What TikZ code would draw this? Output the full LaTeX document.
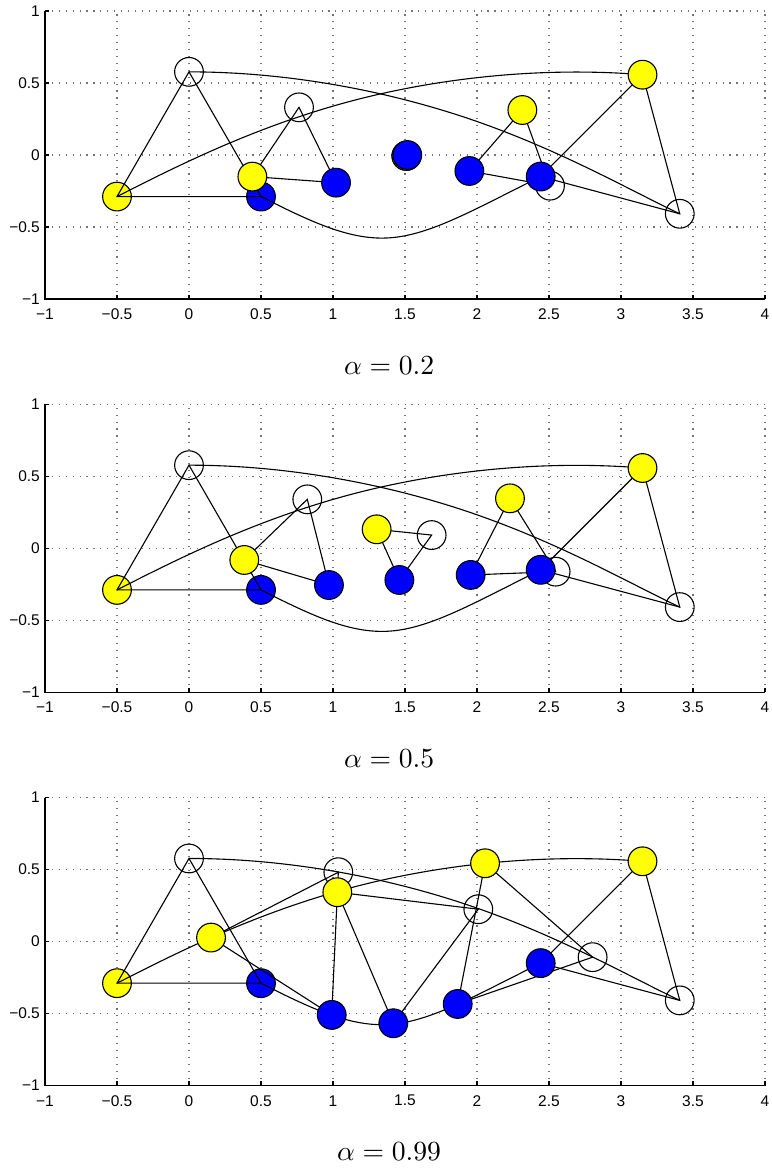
\documentclass[tikz,border=0pt]{standalone}
\usepackage{fontspec}
\newfontfamily\ticksfont{Liberation Sans}
\definecolor{dotyellow}{rgb}{1,1,0}
\definecolor{dotblue}{rgb}{0,0,1}
\tikzset{
    gridline/.style={black!55, line width=0.4pt, dash pattern=on 0.4pt off 2.1pt},
    axisline/.style={line width=0.5pt},
    edge/.style={line width=0.4pt},
    dot/.style={circle, draw, line width=0.4pt, minimum size=0.365cm, inner sep=0pt},
    wdot/.style={dot},
    ydot/.style={dot, fill=dotyellow},
    bdot/.style={dot, fill=dotblue},
    ticklab/.style={font=\ticksfont\fontsize{5.6}{6.7}\selectfont, inner sep=0pt}
}

% one panel: #1 prefix, #2 shift, #3 alpha, #4 inner triangles
\newcommand{\trianglepanel}[4]{%
\begin{scope}[shift={(0,#2)}]
    % grid
    \foreach \gx in {-1,-0.5,...,4}
        \draw[gridline] (\gx,-1) -- (\gx,1);
    \foreach \gy in {-1,-0.5,...,1}
        \draw[gridline] (-1,\gy) -- (4,\gy);

    % axes and ticks
    \draw[axisline] (-1,1) -- (-1,-1) -- (4,-1);
    \foreach \gx/\lab [count=\i] in {
        -1/−1, -0.5/−0.5, 0/0, 0.5/0.5, 1/1, 1.5/1.5,
        2/2, 2.5/2.5, 3/3, 3.5/3.5, 4/4
    }{
        \draw[axisline] (\gx,-1) -- (\gx,-0.97);
        \node[ticklab] (#1-xl\i) at (\gx,-1.105) {\lab};
    }
    \foreach \gy/\lab [count=\i] in {
        -1/−1, -0.5/−0.5, 0/0, 0.5/0.5, 1/1
    }{
        \draw[axisline] (-1,\gy) -- (-0.97,\gy);
        \node[ticklab, anchor=east] (#1-yl\i) at (-1.032,\gy) {\lab};
    }

    % end triangles and the midpoints of the paths
    \foreach \n/\x/\y in {
        W0/0/0.5774, Y0/-0.5/-0.2887, B0/0.5/-0.2887,
        W4/3.4082/-0.4082, Y4/3.1494/0.5577, B4/2.4423/-0.1494,
        Wm/2.0334/0.2209, Ym/1.0420/0.3515, Bm/1.4246/-0.5724,
        #4
    }
        \coordinate (#1-\n) at (\x,\y);

    % first triangle below the lines
    \node[wdot] (#1-w0) at (#1-W0) {};
    \node[ydot] (#1-y0) at (#1-Y0) {};
    \node[bdot] (#1-b0) at (#1-B0) {};

    % triangle edges
    \foreach \t in {0,...,4}
        \draw[edge] (#1-W\t) -- (#1-Y\t) -- (#1-B\t) -- cycle;

    % paths of the three corners
    \draw[edge] (#1-W0) .. controls +(0.7267,0) and +(-0.5868,0.2095) .. (#1-Wm)
        .. controls +(0.5868,-0.2095) and +(-0.3397,0.1603) .. (#1-W4);
    \draw[edge] (#1-Y0) .. controls +(0.3866,0.1964) and +(-0.6380,-0.1799) .. (#1-Ym)
        .. controls +(0.6380,0.1799) and +(-0.7190,0.0587) .. (#1-Y4);
    \draw[edge] (#1-B0) .. controls +(0.3866,-0.1964) and +(-0.2752,-0.0296) .. (#1-Bm)
        .. controls +(0.2752,0.0296) and +(-0.4413,-0.2190) .. (#1-B4);

    % other triangles on top
    \foreach \t in {1,...,4}{
        \node[wdot] (#1-w\t) at (#1-W\t) {};
        \node[ydot] (#1-y\t) at (#1-Y\t) {};
        \node[bdot] (#1-b\t) at (#1-B\t) {};
    }

    \node (#1-title) at (1.39,-1.46) {$\alpha = #3$};
\end{scope}}

\begin{document}
\begin{tikzpicture}[x=1.83cm, y=1.83cm]
    \useasboundingbox (-1.3125,1.0764) rectangle (4.0486,-7.0486);

    % alpha = 0.2
    \trianglepanel{a}{0}{0.2}{
        W1/0.764/0.331, Y1/0.440/-0.150, B1/1.021/-0.192,
        W2/1.509/-0.007, Y2/1.510/-0.006, B2/1.516/0,
        W3/2.507/-0.213, Y3/2.315/0.3125, B3/1.947/-0.111}

    % alpha = 0.5
    \trianglepanel{b}{-2.7313}{0.5}{
        W1/0.8215/0.340, Y1/0.384/-0.081, B1/0.972/-0.255,
        W2/1.685/0.092, Y2/1.303/0.132, B2/1.461/-0.220,
        W3/2.546/-0.162, Y3/2.229/0.347, B3/1.956/-0.185}

    % alpha = 0.99
    \trianglepanel{c}{-5.4625}{0.99}{
        W1/1.037/0.482, Y1/0.153/0.028, B1/0.991/-0.509,
        W2/2.009/0.225, Y2/1.030/0.343, B2/1.419/-0.567,
        W3/2.803/-0.108, Y3/2.056/0.544, B3/1.866/-0.433}
\end{tikzpicture}
\end{document}
